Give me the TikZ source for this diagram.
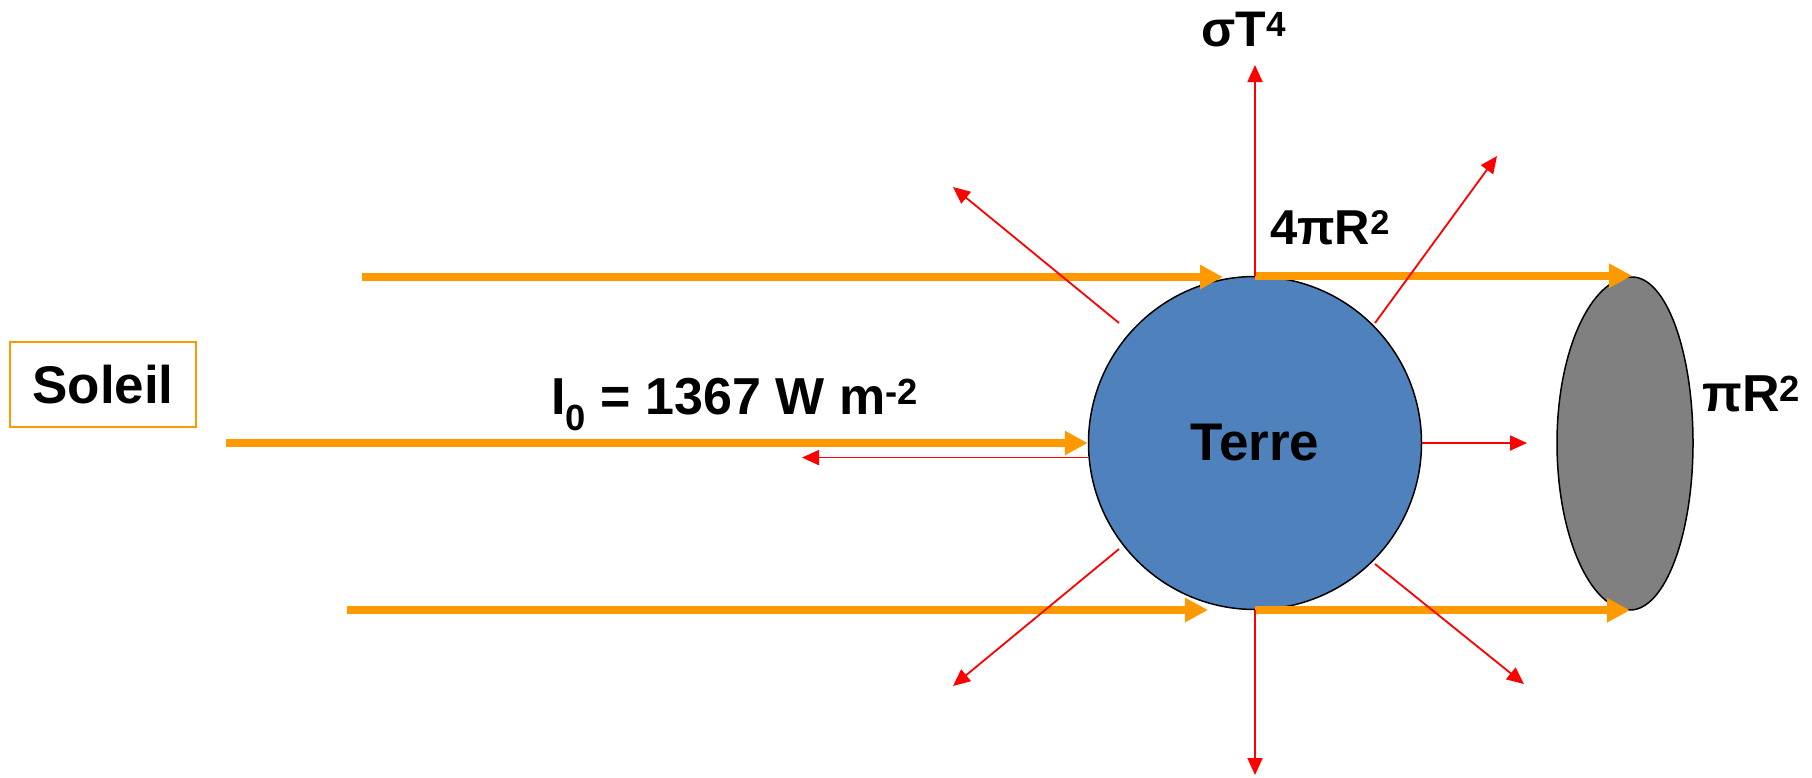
\documentclass[tikz,border=0pt]{standalone}
\usepackage{fontspec}
\setmainfont{Liberation Sans}
\usetikzlibrary{arrows.meta,calc}
\definecolor{sunorange}{RGB}{255,153,0}
\definecolor{earthblue}{RGB}{79,129,189}
\definecolor{diskgray}{RGB}{128,128,128}
\definecolor{rayred}{RGB}{255,0,0}
\begin{document}
\begin{tikzpicture}[x=1pt,y=-1pt,
  sun/.style={line width=8pt, draw=sunorange, -{Triangle[length=23pt,width=23pt]}},
  ray/.style={line width=1.8pt, draw=rayred, -{Triangle[length=17pt,width=15pt]}},
  big/.style={font=\fontsize{52}{62}\selectfont\bfseries},
  mid/.style={font=\fontsize{49}{58}\selectfont\bfseries}]
\useasboundingbox (0,0) rectangle (1812,777);
% Sun box
\node[draw=sunorange, line width=2.5pt, minimum width=186pt, minimum height=85pt, inner sep=0,
      font=\fontsize{53}{63}\selectfont\bfseries] (soleil) at (103,384.5) {Soleil};
% Earth
\node[circle, draw=black, line width=1.5pt, fill=earthblue, minimum size=333pt, inner sep=0,
      font=\fontsize{53}{63}\selectfont\bfseries] (terre) at (1255,443) {Terre};
% Shadow disk
\coordinate (disktop) at (1632,277);
\coordinate (diskright) at (1693,443);
\coordinate (diskbot) at (1630,610);
\coordinate (diskleft) at (1557,443);
\draw[fill=diskgray, line width=1.5pt] (disktop) .. controls (1666,277) and (1693,351) .. (diskright)
  .. controls (1693,535) and (1665,610) .. (diskbot)
  .. controls (1590,610) and (1557,535) .. (diskleft)
  .. controls (1557,351) and (1591,277) .. (disktop) -- cycle;
% Incoming solar rays
\coordinate (s1) at (362,277); \coordinate (t1) at (1223,277);
\coordinate (s2) at (226,443);
\coordinate (s3) at (347,610); \coordinate (t3) at (1208,610);
\draw[sun] (s1) -- (t1);
\draw[sun] (s2) -- (terre.west);
\draw[sun] (s3) -- (t3);
\draw[sun] (terre.north) -- (terre.north -| disktop);
\draw[sun] (terre.south) -- (terre.south -| diskbot);
% Emitted / reflected rays
\coordinate (upTip) at (1255,65);
\coordinate (downTip) at (1255,775);
\coordinate (leftTip) at (802,458);
\coordinate (rightTip) at (1527,443);
\coordinate (ulS) at (1119,323); \coordinate (ulT) at (953,187);
\coordinate (urS) at (1375,323); \coordinate (urT) at (1497,156);
\coordinate (llS) at (1119,549); \coordinate (llT) at (953,686);
\coordinate (lrS) at (1375,564); \coordinate (lrT) at (1524,684);
\draw[ray] (terre.north) -- (upTip);
\draw[ray] (terre.south) -- (downTip);
\draw[ray] (terre.185.2) -- (terre.185.2 -| leftTip);
\draw[ray] (terre.east) -- (terre.east -| rightTip);
\draw[ray] (ulS) -- (ulT);
\draw[ray] (urS) -- (urT);
\draw[ray] (llS) -- (llT);
\draw[ray] (lrS) -- (lrT);
% Labels
\node[anchor=base, inner sep=0, font=\fontsize{50}{60}\selectfont\bfseries] (sigma) at (1244,46) {σT\textsuperscript{4}};
\node[anchor=base west, mid, inner sep=0] (aire4) at (1270,244) {4πR\textsuperscript{2}};
\node[anchor=base west, inner sep=0, font=\fontsize{52}{62}\selectfont\bfseries] (aire) at (1702,411) {πR\textsuperscript{2}};
\node[anchor=base west, big, inner sep=0] (flux) at (551,414) {I\textsubscript{0} = 1367 W m\textsuperscript{-2}};
\end{tikzpicture}
\end{document}
